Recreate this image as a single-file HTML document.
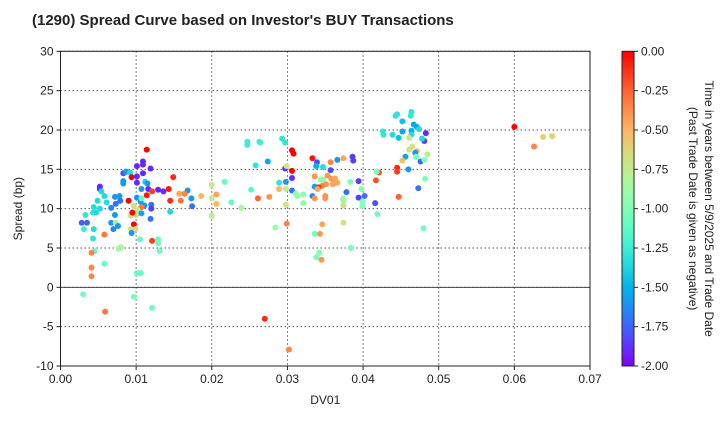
<!DOCTYPE html>
<html><head><meta charset="utf-8"><style>
body{margin:0;background:#fff;font-family:"Liberation Sans",sans-serif}
svg text{font-family:"Liberation Sans",sans-serif;fill:#222}
</style></head><body>
<svg id="c" width="720" height="420"></svg>
<script>
const dv=[.0114,.0109,.0109,.0101,.0119,.0109,.0083,.0087,.0092,.0094,.0101,.0083,.0083,.0101,.0112,.0115,.0149,.0052,.0052,.0054,.0107,.0116,.0129,.0136,.0143,.0121,.0114,.0168,.0157,.0164,.0186,.0200,.0206,.0200,.0206,.0200,.0159,.0145,.0173,.0174,.0145,.0049,.0058,.0061,.0072,.0078,.0079,.0073,.0067,.0044,.0052,.0043,.0047,.0033,.0072,.0090,.0101,.0106,.0107,.0111,.0120,.0120,.0107,.0097,.0102,.0100,.0093,.0095,.0107,.0119,.0028,.0035,.0031,.0044,.0067,.0073,.0076,.0070,.0097,.0093,.0099,.0094,.0043,.0058,.0105,.0129,.0129,.0131,.0121,.0045,.0041,.0077,.0080,.0058,.0041,.0041,.0101,.0106,.0030,.0097,.0121,.0059,
.0217,.0226,.0239,.0247,.0247,.0263,.0264,.0258,.0274,.0252,.0261,.0276,.0284,.0293,.0297,.0306,.0308,.0306,.0297,.0299,.0306,.0298,.0289,.0289,.0298,.0306,.0298,.0299,.0333,.0339,.0338,.0347,.0357,.0366,.0374,.0386,.0387,.0357,.0336,.0353,.0344,.0347,.0358,.0363,.0362,.0366,.0360,.0351,.0346,.0383,.0394,.0336,.0341,.0340,.0333,.0336,.0350,.0350,.0311,.0313,.0321,.0321,.0378,.0374,.0374,.0374,.0398,.0402,.0394,.0399,.0399,.0416,.0419,.0374,.0346,.0336,.0343,.0342,.0338,.0345,.0384,.0417,.0421,.0418,.0445,.0445,.0447,.0460,.0473,.0482,.0480,.0426,.0427,.0439,.0447,.0443,.0445,.0452,.0463,.0464,.0452,.0467,.0471,.0474,.0464,.0464,.0483,.0481,.0478,.0461,.0465,.0461,.0471,.0469,.0470,.0485,.0456,.0452,.0476,.0481,.0600,.0626,.0638,.0650,.0270,.0302];
const sp=[17.5,16,15.6,15.4,15.1,14.5,14.5,14.7,14.6,14,14.1,13.5,13.2,13.3,13.4,13.2,14,12.8,12.5,12.2,12.5,12.5,12.4,12.2,12.5,12.2,11.7,12.3,11.9,11.9,11.6,13,11.8,11.3,10.6,9.1,11,11,11.3,10.3,9.6,11,11.6,10.8,11.5,11.6,11,10.6,10.1,10.2,10,9.5,9.5,9.2,9.2,11,11.4,10.9,11.3,10.4,10.5,10,10.2,10.3,9.8,9.2,9.1,9.5,9.4,8.7,8.2,8.2,7.4,7.4,8.2,8.2,7.8,7.4,8,7.4,7.4,6.9,6.2,6.7,6.1,6.1,5.6,4.6,5.9,4.6,4.4,4.9,5.1,3,2.5,1.4,1.8,1.8,-0.9,-1.2,-2.6,-3.1,
13.4,10.8,10.1,18.5,18.1,18.5,18.4,15.5,16,12.4,11.3,11.5,7.6,18.9,18.4,17.4,17,14.8,15.1,15.4,13.9,13.4,13.3,12.5,12.5,12.3,10.5,8.1,16.4,15.9,15.4,15.3,15.9,16.2,16.4,16.6,16.1,14.9,14.1,14.2,13.7,13.7,13.8,13.8,13.2,13.3,13.1,13.1,12.9,13.4,13.5,12.8,12.7,12.5,11.6,11.3,11.6,11.3,11.9,11.6,11.8,10.7,12.1,11.3,11,10.4,12.5,11.6,11.4,10.9,10.3,10.7,9.3,8.2,8,6.8,6.8,4.4,3.8,3.5,5,13.6,14.6,14.7,15.2,14.7,11.5,15,12.6,13.8,7.5,19.8,19.4,19.4,19,21.8,22,21.1,21.8,22.3,19.8,20.7,20.4,20.1,19.9,19.4,19.6,18.6,18.9,19,17.9,17.5,17.3,17.1,16.6,16.9,16.6,16.1,16,16.2,20.4,17.9,19.1,19.2,-4,-7.9];
const tm=[0,-1.9,-1.9,-1.9,-1.9,-1.9,-1.8,-1.6,-1.35,0,-1.9,-1.6,-1.6,-1.9,-1.4,-1.6,-0.1,-1.9,-1.9,-1.35,-1.6,-1.9,-1.9,-1.9,-0.05,-0.15,-0.05,-1.6,-0.45,-0.35,-0.5,-0.75,-0.45,-0.75,-0.5,-0.75,-0.3,-0.1,-1.6,-1.7,-1.35,-1.35,-1.35,-1.35,-1.6,-1.6,-1.7,-1.7,-1.65,-1.35,-1.35,-1.3,-1.35,-1.3,-1.6,0,-1.6,-1.6,-1.1,-1.6,-1.7,-1.85,-0.3,-0.7,-0.75,-0.7,-0.7,0,-1.55,-1.7,-1.75,-1.75,-1.25,-1.35,-1.6,-0.8,-1.6,-1.65,0,-0.7,-0.65,-1.6,-1.3,-0.3,-1.1,-1.1,-1.05,-1.05,-0.15,-1.1,-0.35,-0.85,-0.85,-1.1,-0.35,-0.35,-1.1,-1.1,-1.05,-1.05,-1.05,-0.3,
-1.1,-1.1,-0.85,-1.25,-1.25,-1.25,-1.25,-1.3,-1.55,-1.15,-0.25,-0.4,-0.9,-1.3,-1.3,0,0,0,-1.9,-0.75,-1.9,-1.6,-1.3,-0.5,-0.75,-1.7,-0.7,-0.35,-0.05,-1.8,-1.5,-1.35,-0.35,-1.6,-0.45,-1.85,-1.85,-1.8,-0.4,-0.4,-0.95,-0.95,-0.4,-0.45,-0.45,-0.45,-0.45,-0.4,-0.35,-1.0,-1.85,-1.55,-0.1,-0.45,-1.65,-0.4,-0.4,-0.4,-0.95,-0.95,-0.95,-0.95,-1.7,-0.9,-0.9,-0.7,-1.0,-1.7,-1.85,-1.0,-1.0,-1.8,-1.05,-0.7,-0.45,-1.05,-0.4,-1.0,-1.0,-0.4,-1.05,-0.2,-0.2,-1.0,-0.1,-0.15,-0.25,-1.6,-1.7,-1.0,-1.05,-1.3,-1.3,-1.35,-1.45,-1.3,-1.3,-1.45,-1.3,-1.3,-1.55,-1.55,-1.55,-1.35,-1.5,-1.35,-1.9,-1.85,-1.35,-0.7,-0.7,-0.7,-0.5,-1.6,-1.05,-0.75,-1.55,-0.55,-1.75,-1.0,0,-0.35,-0.6,-0.6,-0.1,-0.35];
const xTicks=[0,0.01,0.02,0.03,0.04,0.05,0.06,0.07];
const yTicks=[-10,-5,0,5,10,15,20,25,30];
const cTicks=[0,-0.25,-0.5,-0.75,-1,-1.25,-1.5,-1.75,-2];
const L=60.5,R=590,T=51.3,B=366;
const X=v=>L+(v-0)/0.07*(R-L), Y=v=>B-(v+10)/40*(B-T);
const CT=Y(30),CB=Y(-10);
const C=v=>CT+(0-v)/2*(CB-CT);
function col(v){const x=(v+2)/2;const r=Math.min(1,Math.abs(2*x-0.5)),g=Math.sin(Math.PI*x),b=Math.cos(Math.PI*x/2);
return `rgb(${Math.round(r*255)},${Math.round(Math.max(0,g)*255)},${Math.round(Math.max(0,b)*255)})`;}
const svg=document.getElementById('c');const NS='http://www.w3.org/2000/svg';
function el(t,a,p){const e=document.createElementNS(NS,t);for(const k in a)e.setAttribute(k,a[k]);(p||svg).appendChild(e);return e;}
let t=el('text',{x:32,y:25,'font-size':15,'font-weight':'bold'});t.textContent="(1290)   Spread Curve based on Investor's BUY Transactions";


xTicks.forEach(v=>{const g=el('line',{x1:X(v),x2:X(v),y1:T,y2:B,stroke:'#555','stroke-dasharray':'1.5,2.5','stroke-width':1});


el('line',{x1:X(v),x2:X(v),y1:B,y2:B+4,stroke:'#222'});
const l=el('text',{x:X(v),y:B+17,'font-size':12,'text-anchor':'middle'});l.textContent=v.toFixed(2);

});
yTicks.forEach(v=>{const g=el('line',{x1:L,x2:R,y1:Y(v),y2:Y(v),stroke:'#555','stroke-dasharray':'1.5,2.5','stroke-width':1});


el('line',{x1:L-4,x2:L,y1:Y(v),y2:Y(v),stroke:'#222'});
const l=el('text',{x:L-7,y:Y(v)+4,'font-size':12,'text-anchor':'end'});l.textContent=v;

});
const z=el('line',{x1:L,x2:R,y1:Y(0),y2:Y(0),stroke:'#444','stroke-width':1});


dv.forEach((d,i)=>{const c=el('circle',{cx:X(d),cy:Y(sp[i]),r:3,fill:col(tm[i])});

});
const fr=el('rect',{x:L,y:T,width:R-L,height:B-T,fill:'none',stroke:'#222'});


let xt=el('text',{x:(L+R)/2,y:B+38,'font-size':12,'text-anchor':'middle'});xt.textContent='DV01';


let yt=el('text',{x:0,y:0,'font-size':12,'text-anchor':'middle',transform:`translate(22,${(T+B)/2}) rotate(-90)`});yt.textContent='Spread (bp)';


const defs=el('defs',{});const gr=el('linearGradient',{id:'cg',x1:0,y1:0,x2:0,y2:1},defs);
for(let k=0;k<=20;k++){el('stop',{offset:k/20,'stop-color':col(-2*k/20)},gr);}
const cb=el('rect',{x:622,y:CT,width:12,height:CB-CT,fill:'url(#cg)',stroke:'#222'});


cTicks.forEach(v=>{el('line',{x1:634,x2:638,y1:C(v),y2:C(v),stroke:'#222'});
const l=el('text',{x:641,y:C(v)+4,'font-size':12});l.textContent=v.toFixed(2);

});
const ct=el('text',{'font-size':12,'text-anchor':'middle',transform:`translate(705,${(CT+CB)/2}) rotate(90)`});


const s1=el('tspan',{x:0,dy:0},ct);s1.textContent='Time in years between 5/9/2025 and Trade Date';
const s2=el('tspan',{x:0,dy:16},ct);s2.textContent='(Past Trade Date is given as negative)';
</script>
</body></html>
